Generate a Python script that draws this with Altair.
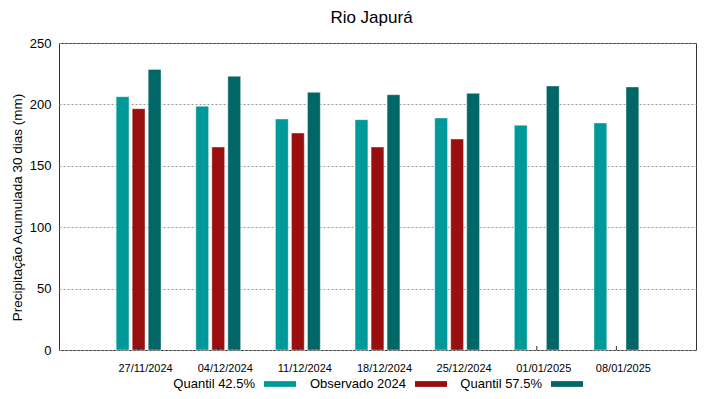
import altair as alt
import pandas as pd

dates = ["27/11/2024", "04/12/2024", "11/12/2024", "18/12/2024",
         "25/12/2024", "01/01/2025", "08/01/2025"]
q425 = [206.3, 198.5, 188.1, 187.6, 188.9, 183.0, 184.9]
obs = [196.5, 165.3, 176.7, 165.3, 171.8, None, None]
q575 = [228.5, 222.9, 209.8, 207.9, 209.0, 215.0, 214.2]

series_names = ["Quantil 42.5%", "Observado 2024", "Quantil 57.5%"]
colors = ["#009999", "#990f0f", "#006666"]

rows = []
for i, d in enumerate(dates):
    for name, vals in zip(series_names, [q425, obs, q575]):
        if vals[i] is not None:
            rows.append({"data": d, "serie": name, "valor": vals[i]})
df = pd.DataFrame(rows)
ticks_df = pd.DataFrame({"data": dates})

FONT = "Liberation Sans"

xscale = alt.Scale(paddingInner=0.437, paddingOuter=0.718)

bars = alt.Chart(df).mark_bar(stroke="white", strokeOpacity=0.4, strokeWidth=1).encode(
    x=alt.X("data:N", sort=dates, scale=xscale,
            axis=alt.Axis(title=None, labelAngle=0, tickSize=0, domain=False,
                          labelFontSize=11, labelPadding=12, labelOffset=7,
                          labelColor="#000", grid=False)),
    xOffset=alt.XOffset("serie:N", sort=series_names,
                        scale=alt.Scale(paddingInner=0.2, paddingOuter=0)),
    y=alt.Y("valor:Q", scale=alt.Scale(domain=[0, 250], nice=False),
            axis=alt.Axis(values=[0, 50, 100, 150, 200, 250],
                          title="Precipitação Acumulada 30 dias (mm)",
                          grid=True, gridDash=[2, 2], gridColor="#999999",
                          tickSize=0, domain=False, labelFontSize=13,
                          labelPadding=8, labelColor="#000",
                          titleFontSize=13.5, titleFontWeight="normal",
                          titlePadding=5, titleColor="#000", titleY=164)),
    color=alt.Color("serie:N", sort=series_names,
                    scale=alt.Scale(domain=series_names, range=colors),
                    legend=alt.Legend(orient="none", legendX=205, legendY=325,
                                      direction="horizontal", title=None,
                                      symbolType="M-1,-0.18H1V0.18H-1Z",
                                      symbolSize=1024, symbolStrokeWidth=0,
                                      symbolOpacity=1,
                                      labelFontSize=13, labelAlign="right",
                                      labelOffset={"expr": "-41"}, columnPadding=13,
                                      padding=0, labelColor="#000")),
)

xticks = alt.Chart(ticks_df).mark_rule(color="#333333", strokeWidth=1).encode(
    x=alt.X("data:N", sort=dates),
    y=alt.value(307),
    y2=alt.value(303),
)

chart = alt.layer(bars, xticks).properties(
    width=637, height=307,
    title=alt.Title("Rio Japurá", fontSize=17, fontWeight="normal",
                    anchor="middle", dx=-6, offset=10, color="#000"),
    autosize=alt.AutoSizeParams(type="none"),
    padding={"left": 51, "top": 35, "right": 15, "bottom": 41},
).configure(font=FONT).configure_view(stroke="#333333", strokeWidth=1)

chart.save("out.html", embed_options={"renderer": "svg", "actions": False})
